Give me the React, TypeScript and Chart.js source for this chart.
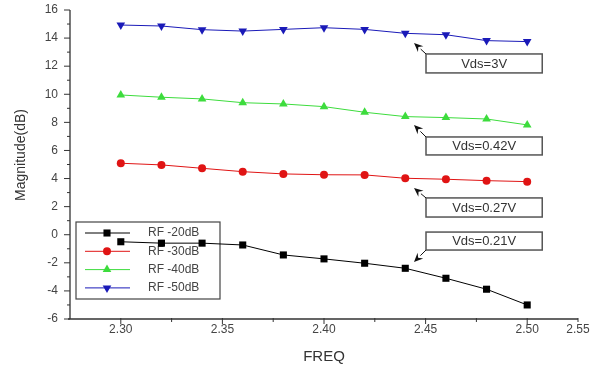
import React, { useEffect, useRef } from 'react';
import { Chart, registerables } from 'chart.js';

Chart.register(...registerables);

// ---- data ----
const freq = [2.30, 2.32, 2.34, 2.36, 2.38, 2.40, 2.42, 2.44, 2.46, 2.48, 2.50];
const rf20 = [-0.5, -0.6, -0.6, -0.73, -1.44, -1.72, -2.03, -2.39, -3.1, -3.88, -5.0];
const rf30 = [5.09, 4.97, 4.73, 4.49, 4.33, 4.27, 4.26, 4.02, 3.95, 3.85, 3.78];
const rf40 = [9.95, 9.79, 9.67, 9.4, 9.31, 9.12, 8.72, 8.41, 8.34, 8.24, 7.82];
const rf50 = [14.93, 14.86, 14.6, 14.5, 14.62, 14.74, 14.62, 14.34, 14.24, 13.82, 13.75];
const seriesNames = ['RF -20dB', 'RF -30dB', 'RF -40dB', 'RF -50dB'];

const xTickValues = [2.30, 2.325, 2.35, 2.375, 2.40, 2.425, 2.45, 2.475, 2.50, 2.525];
const xTickLabels = ['2.30', '', '2.35', '', '2.40', '', '2.45', '', '2.50', '2.55'];
const yTickValues = [-6, -5, -4, -3, -2, -1, 0, 1, 2, 3, 4, 5, 6, 7, 8, 9, 10, 11, 12, 13, 14, 15, 16];
const yTickLabels = ['-6', '', '-4', '', '-2', '', '0', '', '2', '', '4', '', '6', '', '8', '', '10', '', '12', '', '14', '', '16'];

// annotations (data coordinates)
const vdsLabels = ['Vds=3V', 'Vds=0.42V', 'Vds=0.27V', 'Vds=0.21V'];
const vdsBoxX = [2.4502, 2.5074];
const vdsBoxTop = [12.87, 6.96, 2.62, 0.19];
const vdsBoxBottom = [11.52, 5.68, 1.26, -1.09];
const vdsTipX = [2.4443, 2.4443, 2.4443, 2.4443];
const vdsTipY = [13.65, 7.81, 3.33, -1.94];
const vdsFromBottom = [false, false, false, true];

const colors = ['#000000', '#e01414', '#3ddc3d', '#1a1ab8'];
const styles = ['rect', 'circle', 'triangle', 'triangle'];
const rotations = [0, 0, 0, 180];
const radii = [5, 4, 5, 5];

const FONT = '"Liberation Sans", Arial, sans-serif';

function drawMarker(ctx: CanvasRenderingContext2D, style: string, x: number, y: number, r: number, rot: number) {
  ctx.beginPath();
  if (style === 'rect') {
    const s = Math.SQRT1_2 * r;
    ctx.rect(x - s, y - s, 2 * s, 2 * s);
  } else if (style === 'circle') {
    ctx.arc(x, y, r, 0, Math.PI * 2);
  } else {
    const dir = rot === 180 ? -1 : 1;
    ctx.moveTo(x, y - dir * r);
    ctx.lineTo(x - r * 0.866, y + dir * r * 0.5);
    ctx.lineTo(x + r * 0.866, y + dir * r * 0.5);
    ctx.closePath();
  }
  ctx.fill();
}

const overlay = {
  id: 'overlay',
  beforeDatasetsDraw(chart: any) {
    const ctx: CanvasRenderingContext2D = chart.ctx;
    const { left, right, top, bottom } = chart.chartArea;
    const xs = chart.scales.x;
    const ys = chart.scales.y;
    ctx.save();
    ctx.strokeStyle = '#333';
    ctx.lineWidth = 1.3;
    // axes
    ctx.beginPath();
    ctx.moveTo(left, top);
    ctx.lineTo(left, bottom);
    ctx.moveTo(left - 2, bottom);
    ctx.lineTo(right, bottom);
    ctx.stroke();
    // ticks
    ctx.lineWidth = 1;
    yTickValues.forEach((v, i) => {
      const p = ys.getPixelForValue(v);
      const len = yTickLabels[i] ? 6 : 3;
      ctx.beginPath();
      ctx.moveTo(left - len, p);
      ctx.lineTo(left, p);
      ctx.stroke();
    });
    xTickValues.forEach((v, i) => {
      const p = xs.getPixelForValue(v);
      const len = xTickLabels[i] && i < xTickValues.length - 1 ? 5 : 3;
      ctx.beginPath();
      ctx.moveTo(p, bottom - 1);
      ctx.lineTo(p, bottom + len);
      ctx.stroke();
    });
    // axis titles
    ctx.fillStyle = '#333';
    ctx.font = `15px ${FONT}`;
    ctx.textAlign = 'center';
    ctx.textBaseline = 'middle';
    ctx.fillText('FREQ', (left + right) / 2, 357);
    ctx.save();
    ctx.translate(21, 155);
    ctx.rotate(-Math.PI / 2);
    ctx.font = `14px ${FONT}`;
    ctx.fillText('Magnitude(dB)', 0, 0);
    ctx.restore();

    // legend
    const lx = left + 6, ly = 222, lw = 144, lh = 77;
    ctx.fillStyle = '#ffffff';
    ctx.fillRect(lx, ly, lw, lh);
    ctx.strokeStyle = '#444';
    ctx.lineWidth = 1.2;
    ctx.strokeRect(lx, ly, lw, lh);
    ctx.font = `12px ${FONT}`;
    ctx.textAlign = 'left';
    seriesNames.forEach((name, i) => {
      const y = ly + 11 + i * 18.3;
      ctx.strokeStyle = colors[i];
      ctx.lineWidth = 1;
      ctx.beginPath();
      ctx.moveTo(lx + 9, y);
      ctx.lineTo(lx + 54, y);
      ctx.stroke();
      ctx.fillStyle = colors[i];
      drawMarker(ctx, styles[i], lx + 31, y, radii[i], rotations[i]);
      ctx.fillStyle = '#444';
      ctx.fillText(name, lx + 72, y);
    });
    ctx.restore();
  },
  afterDatasetsDraw(chart: any) {
    const ctx: CanvasRenderingContext2D = chart.ctx;
    const xs = chart.scales.x;
    const ys = chart.scales.y;
    ctx.save();
    vdsLabels.forEach((label, i) => {
      const x1 = xs.getPixelForValue(vdsBoxX[0]);
      const x2 = xs.getPixelForValue(vdsBoxX[1]);
      const y1 = ys.getPixelForValue(vdsBoxTop[i]);
      const y2 = ys.getPixelForValue(vdsBoxBottom[i]);
      ctx.fillStyle = '#ffffff';
      ctx.fillRect(x1, y1, x2 - x1, y2 - y1);
      ctx.strokeStyle = '#555';
      ctx.lineWidth = 1.5;
      ctx.strokeRect(x1, y1, x2 - x1, y2 - y1);
      ctx.fillStyle = '#333';
      ctx.font = `13px ${FONT}`;
      ctx.textAlign = 'center';
      ctx.textBaseline = 'middle';
      ctx.fillText(label, (x1 + x2) / 2, (y1 + y2) / 2 + 0.5);
      // arrow
      const tx = xs.getPixelForValue(vdsTipX[i]);
      const ty = ys.getPixelForValue(vdsTipY[i]);
      const sx = x1;
      const sy = vdsFromBottom[i] ? y2 : y1;
      const ang = Math.atan2(ty - sy, tx - sx);
      const hl = 9, hw = 4;
      const bx = tx - hl * Math.cos(ang);
      const by = ty - hl * Math.sin(ang);
      ctx.strokeStyle = '#111';
      ctx.lineWidth = 1;
      ctx.beginPath();
      ctx.moveTo(sx, sy);
      ctx.lineTo(bx, by);
      ctx.stroke();
      ctx.fillStyle = '#111';
      ctx.beginPath();
      ctx.moveTo(tx, ty);
      ctx.lineTo(bx + hw * Math.sin(ang), by - hw * Math.cos(ang));
      ctx.lineTo(bx + 0.35 * hl * Math.cos(ang), by + 0.35 * hl * Math.sin(ang));
      ctx.lineTo(bx - hw * Math.sin(ang), by + hw * Math.cos(ang));
      ctx.closePath();
      ctx.fill();
    });
    ctx.restore();
  },
};

export default function App() {
  const ref = useRef<HTMLCanvasElement | null>(null);
  useEffect(() => {
    if (!ref.current) return;
    const all = [rf20, rf30, rf40, rf50];
    const chart = new Chart(ref.current, {
      type: 'line',
      data: {
        datasets: all.map((vals, i) => ({
          label: seriesNames[i],
          data: freq.map((f, j) => ({ x: f, y: vals[j] })),
          borderColor: colors[i],
          backgroundColor: colors[i],
          borderWidth: 1,
          pointStyle: styles[i] as any,
          pointRotation: rotations[i],
          pointRadius: radii[i],
          pointBorderWidth: 0,
          pointBackgroundColor: colors[i],
          tension: 0,
          fill: false,
        })),
      },
      options: {
        animation: false,
        responsive: false,
        maintainAspectRatio: false,
        layout: { padding: { top: 10, right: 16, left: 0, bottom: 0 } },
        plugins: { legend: { display: false }, tooltip: { enabled: false }, title: { display: false } },
        scales: {
          x: {
            type: 'linear',
            min: 2.275,
            max: 2.525,
            grid: { display: false, drawTicks: false },
            border: { display: false },
            afterBuildTicks: (s: any) => {
              s.ticks = xTickValues.map((v) => ({ value: v }));
            },
            afterFit: (s: any) => {
              s.height = 51;
              s.paddingLeft = 0;
              s.paddingRight = 0;
            },
            ticks: {
              autoSkip: false,
              maxRotation: 0,
              padding: 3,
              color: '#444',
              font: { family: FONT, size: 12 },
              callback: (_v: any, idx: number) => xTickLabels[idx],
            },
          },
          y: {
            type: 'linear',
            min: -6,
            max: 16,
            grid: { display: false, drawTicks: false },
            border: { display: false },
            afterBuildTicks: (s: any) => {
              s.ticks = yTickValues.map((v) => ({ value: v }));
            },
            afterFit: (s: any) => {
              s.width = 70;
              s.paddingTop = 0;
              s.paddingBottom = 0;
            },
            ticks: {
              autoSkip: false,
              padding: 12,
              color: '#444',
              font: { family: FONT, size: 12 },
              callback: (_v: any, idx: number) => yTickLabels[idx],
            },
          },
        },
      },
      plugins: [overlay],
    });
    return () => chart.destroy();
  }, []);
  return (
    <div style={{ position: 'fixed', left: 0, top: 0, width: 594, height: 370, background: '#fff' }}>
      <canvas ref={ref} width={594} height={370} style={{ width: 594, height: 370, display: 'block' }} />
    </div>
  );
}
